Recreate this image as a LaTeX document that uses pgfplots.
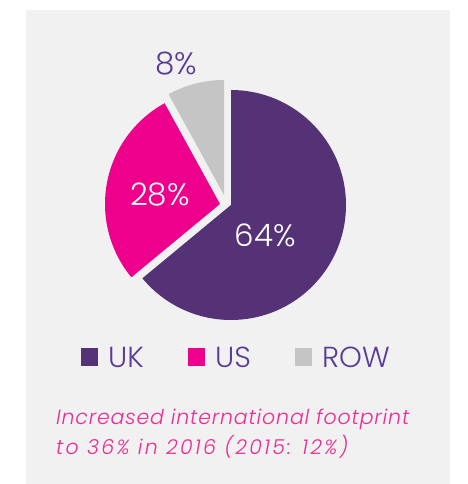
\documentclass[border=0pt]{standalone}
\usepackage{pgfplots}
\pgfplotsset{compat=1.18}
\usepackage{fontspec}
\setmainfont{Poppins}[UprightFont={* Light}, ItalicFont={* Light Italic}]
\definecolor{ukc}{HTML}{543275}
\definecolor{usc}{HTML}{EC008C}
\definecolor{rowc}{HTML}{C6C5C6}
\definecolor{bgc}{HTML}{F1F1F1}
\definecolor{txtp}{HTML}{5A3C96}
\definecolor{txtm}{HTML}{EE2A93}
% data: share (%)
\def\vUK{64}
\def\vUS{28}
\def\vROW{8}
\begin{document}
\begin{tikzpicture}
\fill[white] (0,0) rectangle (467pt,484pt);
\fill[bgc] (26pt,0) rectangle (450pt,474pt);
\begin{axis}[
  at={(0,0)}, anchor=south west, scale only axis,
  width=467pt, height=484pt,
  xmin=0, xmax=467, ymin=0, ymax=484,
  hide axis, clip=false]
\pgfmathsetmacro\aA{90}
\pgfmathsetmacro\aB{90-3.6*\vUK}
\pgfmathsetmacro\aC{\aB-3.6*\vUS}
\pgfmathsetmacro\aD{\aC-3.6*\vROW}
% UK
\fill[ukc] (axis cs:231,279) -- ++(\aA:115pt) arc[start angle=\aA, end angle=\aB, radius=115pt] -- cycle;
% US
\fill[usc] (axis cs:220,280) -- ++(\aB:115pt) arc[start angle=\aB, end angle=\aC, radius=115pt] -- cycle;
% ROW
\fill[rowc] (axis cs:224,289) -- ++(\aC:115pt) arc[start angle=\aC, end angle=\aD, radius=115pt] -- cycle;
% labels
\node[anchor=base, font=\fontsize{31}{31}\selectfont, text=white] at (axis cs:265,237) {\vUK\%};
\node[anchor=base, font=\fontsize{31}{31}\selectfont, text=white] at (axis cs:160,278) {\vUS\%};
\node[anchor=base, font=\fontsize{31}{31}\selectfont, text=txtp] at (axis cs:176,409) {\vROW\%};
% legend
\fill[ukc] (axis cs:81,118) rectangle (axis cs:98,136);
\fill[usc] (axis cs:188,118) rectangle (axis cs:205,136);
\fill[rowc] (axis cs:295,118) rectangle (axis cs:312,136);
\node[anchor=base west, inner sep=0pt, font=\fontsize{29}{29}\selectfont, text=txtp] at (axis cs:108,116) {UK};
\node[anchor=base west, inner sep=0pt, font=\fontsize{29}{29}\selectfont, text=txtp] at (axis cs:215,116) {US};
\node[anchor=base west, inner sep=0pt, font=\fontsize{29}{29}\selectfont, text=txtp] at (axis cs:322,116) {ROW};
% note
\node[anchor=base west, inner sep=0pt, font=\fontsize{20.5}{20.5}\selectfont\itshape\addfontfeature{LetterSpace=4}, text=txtm] at (axis cs:56,59) {Increased international footprint};
\node[anchor=base west, inner sep=0pt, font=\fontsize{20.5}{20.5}\selectfont\itshape\addfontfeature{LetterSpace=11}, text=txtm] at (axis cs:56,29) {to 36\% in 2016 (2015: 12\%)};
\end{axis}
\pgfresetboundingbox
\useasboundingbox (0,0) rectangle (467pt,484pt);
\end{tikzpicture}
\end{document}
